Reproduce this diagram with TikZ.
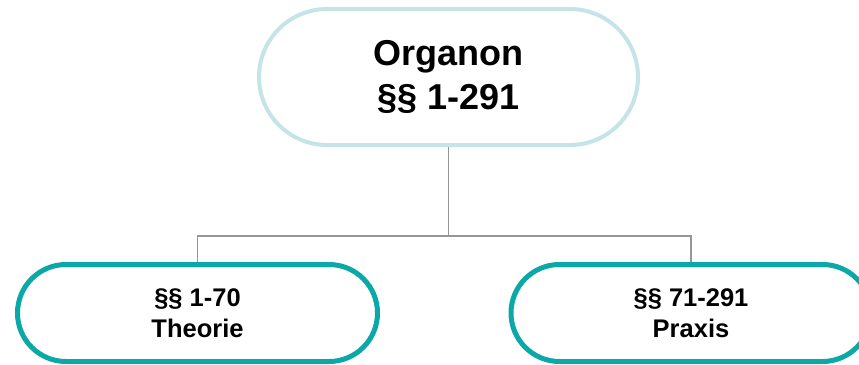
\documentclass[tikz,border=0pt]{standalone}
\usepackage{fontspec}
\setmainfont{Liberation Sans}
\definecolor{topblue}{RGB}{197,228,232}
\definecolor{teal2}{RGB}{10,168,166}
\definecolor{conngray}{RGB}{150,150,150}
\tikzset{
  topbox/.style={draw=topblue, line width=4pt, fill=white, rectangle, rounded corners=68pt,
    minimum width=379pt, minimum height=136pt, align=center, inner sep=0pt,
    font=\fontsize{36}{44}\selectfont\bfseries},
  subbox/.style={draw=teal2, line width=5pt, fill=white, rectangle, rounded corners=48.5pt,
    minimum width=360pt, minimum height=97pt, align=center, inner sep=0pt,
    font=\fontsize{25.5}{31}\selectfont\bfseries},
  conn/.style={draw=conngray, line width=1.5pt}
}
\begin{document}
\begin{tikzpicture}[x=1pt,y=-1pt]
\useasboundingbox (0,0) rectangle (859,364);
\clip (0,0) rectangle (859,364);
\node[topbox] (top) at (448.5,77) {Organon\\§§ 1-291};
\node[subbox] (left) at (197.5,313) {§§ 1-70\hspace{6pt}\\Theorie};
\node[subbox] (right) at (691,313) {§§ 71-291\hspace{8pt}\\Praxis\hspace{4pt}};
\coordinate (bus) at (0,236);
\draw[conn] (top.south) -- (top.south |- bus);
\draw[conn] (left.north) -- (left.north |- bus) -- (right.north |- bus) -- (right.north);
\end{tikzpicture}
\end{document}
